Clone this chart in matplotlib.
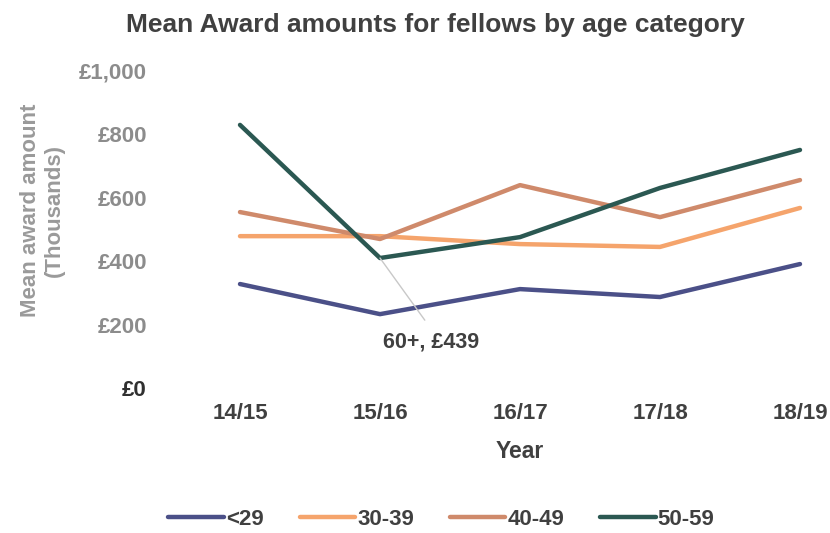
import matplotlib.pyplot as plt

plt.rcParams['font.family'] = ['Liberation Sans', 'DejaVu Sans']
plt.rcParams['font.weight'] = 'bold'
plt.rcParams['axes.labelweight'] = 'bold'

years = ["14/15", "15/16", "16/17", "17/18", "18/19"]
under_29 = [328, 233, 312, 287, 391]
age_30_39 = [479, 479, 454, 445, 568]
age_40_49 = [555, 470, 640, 539, 656]
age_50_59 = [830, 410, 476, 631, 751]
series_names = ["<29", "30-39", "40-49", "50-59"]
colors = ["#4b5088", "#f5a46c", "#cf8a6b", "#2b5852"]
yticks = [0, 200, 400, 600, 800, 1000]
ytick_labels = ["£0", "£200", "£400", "£600", "£800", "£1,000"]
label_60 = "60+, £439"

fig = plt.figure(figsize=(8.3, 5.33), dpi=100)
ax = fig.add_axes([219 / 830, 145 / 533, 602 / 830, 317 / 533])

x = range(len(years))
for name, vals, col in zip(series_names, [under_29, age_30_39, age_40_49, age_50_59], colors):
    ax.plot(x, vals, color=col, lw=3.2, label=name, solid_capstyle="round")

ax.set_xlim(-0.15, 4.15)
ax.set_ylim(0, 1000)
ax.set_xticks(list(x))
ax.set_xticklabels(years, fontsize=16, color="#404040")
ax.set_yticks(yticks)
ax.set_yticklabels(ytick_labels, fontsize=16, color="#8c8c8c")
ax.get_yticklabels()[0].set_color("#303030")
ax.tick_params(axis="x", length=0, pad=11)
ax.tick_params(axis="y", length=0, pad=52)
for s in ax.spines.values():
    s.set_visible(False)

# leader line and label for the 60+ series
ax.annotate("", xy=(1.0, 410), xytext=(1.32, 214),
            arrowprops=dict(arrowstyle="-", color="#c8c8c8", lw=1, shrinkA=0, shrinkB=0))
ax.text(1.02, 178, label_60, fontsize=15.5, color="#404040", ha="left", va="top")

fig.text(0.524, 0.975, "Mean Award amounts for fellows by age category", fontsize=19,
         color="#404040", ha="center", va="top")
ax.set_xlabel("Year", fontsize=16.5, color="#404040", labelpad=11)
ax.set_ylabel("Mean award amount\n(Thousands)", fontsize=16, color="#9a9a9a",
              linespacing=1.2)
ax.yaxis.set_label_coords(-0.256, 0.56)

fig.legend(loc="center", bbox_to_anchor=(0.532, 0.025), ncol=4, frameon=False,
           fontsize=16, handlelength=2.5, handletextpad=0.1, columnspacing=1.6,
           labelcolor="#404040")

fig.savefig("out.png", dpi=100)
